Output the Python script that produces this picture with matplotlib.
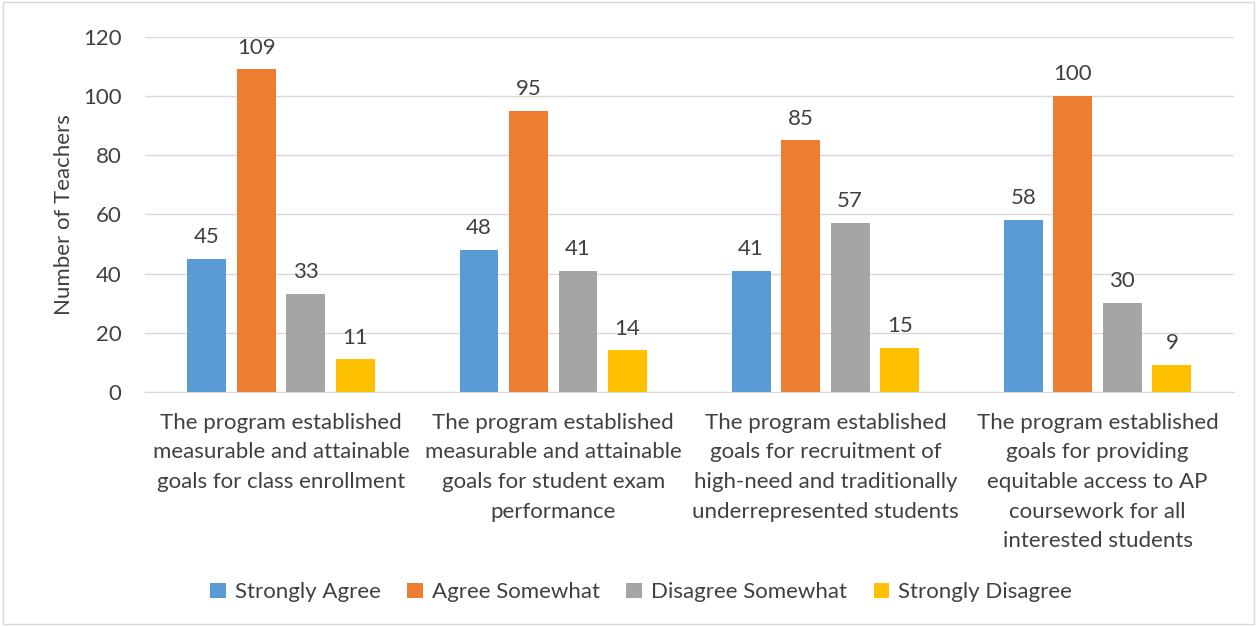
import numpy as np
from matplotlib import pyplot as plt

categories = [
    "The program established\nmeasurable and attainable\ngoals for class enrollment",
    "The program established\nmeasurable and attainable\ngoals for student exam\nperformance",
    "The program established\ngoals for recruitment of\nhigh-need and traditionally\nunderrepresented students",
    "The program established\ngoals for providing\nequitable access to AP\ncoursework for all\ninterested students",
]
series_names = ["Strongly Agree", "Agree Somewhat", "Disagree Somewhat", "Strongly Disagree"]
strongly_agree = [45, 48, 41, 58]
agree_somewhat = [109, 95, 85, 100]
disagree_somewhat = [33, 41, 57, 30]
strongly_disagree = [11, 14, 15, 9]
colors = ["#5B9BD5", "#ED7D31", "#A5A5A5", "#FFC000"]

plt.rcParams['font.family'] = ['Lato', 'DejaVu Sans']
text_color = '#404040'
fs = 16

fig = plt.figure(figsize=(12.57, 6.26), dpi=100)
ax = fig.add_axes([0.1154, 0.374, 0.866, 0.567])

x = np.arange(len(categories))
width = 0.143
step = 0.182
all_series = [strongly_agree, agree_somewhat, disagree_somewhat, strongly_disagree]
for i, (vals, name, c) in enumerate(zip(all_series, series_names, colors)):
    pos = x + (i - 1.5) * step
    ax.bar(pos, vals, width, color=c, label=name, zorder=3)
    for xp, v in zip(pos, vals):
        ax.text(xp, v + 4, str(v), ha='center', va='bottom', fontsize=fs, color=text_color)

ax.set_xlim(-0.5, len(categories) - 0.5)
ax.set_ylim(0, 120)
ax.set_yticks(range(0, 121, 20))
ax.yaxis.grid(True, color='#D9D9D9', linewidth=1, zorder=0)
ax.set_xticks(x)
ax.set_xticklabels(categories, fontsize=fs, color=text_color, linespacing=1.6)
ax.tick_params(axis='x', length=0, pad=15)
ax.tick_params(axis='y', length=0, labelsize=fs, labelcolor=text_color, pad=17)
for s in ['top', 'right', 'left']:
    ax.spines[s].set_visible(False)
ax.spines['bottom'].set_color('#D9D9D9')
ax.set_ylabel("Number of Teachers", fontsize=fs, color=text_color, labelpad=6)

fig.legend(loc='center', bbox_to_anchor=(0.51, 0.054), ncol=4, frameon=False,
           fontsize=fs, labelcolor=text_color, handlelength=0.7, handleheight=0.7,
           columnspacing=1.2, handletextpad=0.4)

fig.patches.append(plt.Rectangle((0.002, 0.003), 0.996, 0.994, transform=fig.transFigure,
                                 fill=False, edgecolor='#D9D9D9', linewidth=1))

fig.savefig('out.png', dpi=100)
